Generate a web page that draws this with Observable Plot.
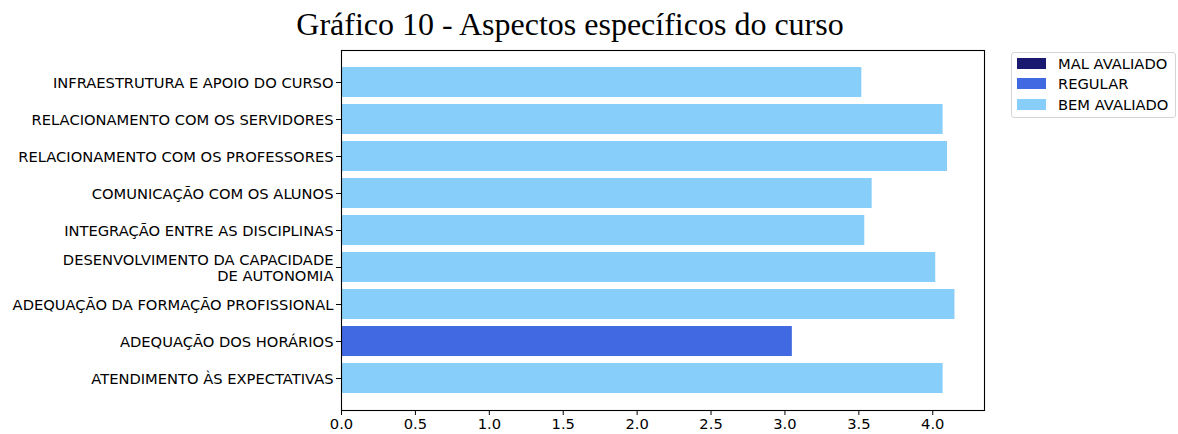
<!DOCTYPE html>
<html>
<head>
<meta charset="utf-8">
<script src="https://cdn.jsdelivr.net/npm/d3@7"></script>
<script src="https://cdn.jsdelivr.net/npm/@observablehq/plot@0.6"></script>
<style>
  html, body { margin: 0; padding: 0; background: #fff; }
  #wrap { position: relative; width: 1178px; height: 434px; overflow: hidden; }
  #title { position: absolute; left: 0; top: 0; width: 1140px; height: 50px; text-align: center;
           font-family: "Liberation Serif", "Times New Roman", serif; font-size: 32px; line-height: 48px; color: #000; }
  #chart { position: absolute; left: 0; top: 48px; }
  #legend { position: absolute; left: 1011px; top: 52px; width: 163px; height: 64px; border: 1px solid #d5d5d5;
            border-radius: 3px; background: #fff; font-family: "DejaVu Sans", sans-serif; font-size: 14.7px; color: #000; }
  .row { position: absolute; left: 5px; height: 20px; display: flex; align-items: center; }
  .sw { width: 29px; height: 11px; margin-right: 12px; }
</style>
</head>
<body>
<div id="wrap">
  <div id="title">Gráfico 10 - Aspectos específicos do curso</div>
  <div id="chart"></div>
  <div id="legend"></div>
</div>
<script>
const categories = [
  "INFRAESTRUTURA E APOIO DO CURSO",
  "RELACIONAMENTO COM OS SERVIDORES",
  "RELACIONAMENTO COM OS PROFESSORES",
  "COMUNICAÇÃO COM OS ALUNOS",
  "INTEGRAÇÃO ENTRE AS DISCIPLINAS",
  "DESENVOLVIMENTO DA CAPACIDADE\nDE AUTONOMIA",
  "ADEQUAÇÃO DA FORMAÇÃO PROFISSIONAL",
  "ADEQUAÇÃO DOS HORÁRIOS",
  "ATENDIMENTO ÀS EXPECTATIVAS"
];
const values = [3.52, 4.07, 4.10, 3.59, 3.54, 4.02, 4.15, 3.05, 4.07];
const ratings = ["BEM AVALIADO", "BEM AVALIADO", "BEM AVALIADO", "BEM AVALIADO", "BEM AVALIADO",
                 "BEM AVALIADO", "BEM AVALIADO", "REGULAR", "BEM AVALIADO"];
const legendLabels = ["MAL AVALIADO", "REGULAR", "BEM AVALIADO"];
const legendColors = ["#191970", "#4169E1", "#87CEFA"];
const xTicks = [0, 0.5, 1, 1.5, 2, 2.5, 3, 3.5, 4];

const data = categories.map((c, i) => ({category: c, value: values[i], rating: ratings[i]}));

const chart = Plot.plot({
  width: 1178,
  height: 386,
  marginLeft: 341,
  marginRight: 194,
  marginTop: 2,
  marginBottom: 24,
  style: {fontFamily: "DejaVu Sans, sans-serif", fontSize: "14.7px", color: "#000", background: "#fff"},
  x: {domain: [0, 4.35], ticks: xTicks, tickFormat: d3.format(".1f")},
  y: {domain: categories, paddingInner: 0.2, paddingOuter: 0.44},
  color: {domain: legendLabels, range: legendColors},
  marks: [
    Plot.barX(data, {x: "value", y: "category", fill: "rating"}),
    Plot.frame({stroke: "#000", strokeWidth: 1.1}),
    Plot.axisX({ticks: xTicks, tickFormat: d3.format(".1f"), tickSize: 5, tickPadding: 3, label: null, stroke: "#000", fill: "#000"}),
    Plot.axisY({tickSize: 5, tickPadding: 3, label: null, lineHeight: 1.1, stroke: "#000", fill: "#000"})
  ]
});
document.getElementById("chart").appendChild(chart);

const legend = document.getElementById("legend");
legendLabels.forEach((lab, i) => {
  const row = document.createElement("div");
  row.className = "row";
  row.style.top = (0 + i * 20.5) + "px";
  const sw = document.createElement("div");
  sw.className = "sw";
  sw.style.background = legendColors[i];
  const t = document.createElement("span");
  t.textContent = lab;
  row.appendChild(sw);
  row.appendChild(t);
  legend.appendChild(row);
});
</script>
</body>
</html>
